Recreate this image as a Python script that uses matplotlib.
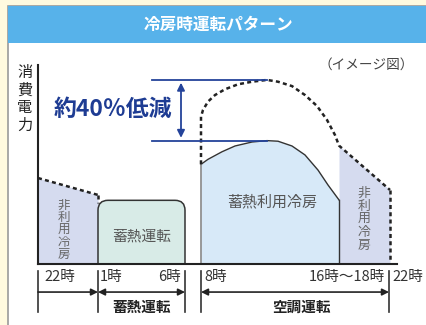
import matplotlib.pyplot as plt
from matplotlib.patches import Rectangle, FancyBboxPatch

plt.rcParams['font.family'] = ['Noto Sans CJK JP', 'DejaVu Sans']

# schematic time positions along the x axis
t_pos = [0, 60, 147, 163, 301, 351]   # 22時, 1時, 6時, 8時, 18時, 22時
t_labels = ['22時', '1時', '6時', '8時', '16時～18時', '22時']

# power (relative, 0-100)
night_x = [0, 60]
night_power = [43.2, 34.7]
night_drop = 30.5
storage_power = 32.0

main_x = [163, 170, 184, 197, 214, 229, 240, 254, 267, 280, 290, 301]
main_power = [50.1, 52.6, 56.4, 59.3, 61.3, 62.0, 61.7, 59.3, 54.8, 47.2, 39.7, 32.2]

evening_x = [301, 352]
evening_power = [59.5, 37.2]

dome_x = [163, 163, 165, 170, 177, 187, 200, 214, 229, 240, 254, 267, 279, 289, 297, 301]
dome_power = [50.1, 74.0, 77.4, 81.6, 84.9, 87.8, 90.3, 91.6, 92.5, 91.6, 89.4, 84.9,
              79.4, 72.4, 64.8, 59.5]

peak_before = 92.5
peak_after = 62.0

lavender = '#d5dbef'
teal = '#d8ebe7'
sky = '#d7e9f8'
navy = '#24439a'

fig = plt.figure(figsize=(4.26, 3.25), dpi=100)
fig.patch.set_facecolor('#fffadf')

bg = fig.add_axes([0, 0, 1, 1])
bg.set_xlim(0, 426)
bg.set_ylim(325, 0)
bg.axis('off')
bg.add_patch(Rectangle((8, 6), 420, 325, facecolor='white', edgecolor='#9a9a9a', lw=1.2))
bg.add_patch(Rectangle((8, 6), 420, 37, facecolor='#57b2ea', edgecolor='none'))
bg.text(218, 25, '冷房時運転パターン', color='white', fontsize=12, fontweight='bold',
        ha='center', va='center')
bg.text(414, 65, '（イメージ図）', color='#444444', fontsize=9.8, ha='right', va='center')
bg.text(25, 99, '消\n費\n電\n力', color='#222222', fontsize=11, ha='center', va='center',
        linespacing=1.05)

ax = fig.add_axes([38 / 426, 61 / 325, 359 / 426, 199 / 325])
ax.set_xlim(0, 359)
ax.set_ylim(0, 100)
ax.patch.set_alpha(0)
for s in ['top', 'right']:
    ax.spines[s].set_visible(False)
for s in ['left', 'bottom']:
    ax.spines[s].set_linewidth(1.5)
    ax.spines[s].set_color('#222222')
ax.set_xticks([])
ax.set_yticks([])

dash = (0, (1.6, 1.3))

# night non-use cooling
ax.fill_between(night_x, night_power, 0, color=lavender, lw=0)
ax.plot(night_x, night_power, color='#222222', lw=1.8, ls=dash)
ax.plot([night_x[1], night_x[1]], [night_power[1], night_drop], color='#222222', lw=1.8, ls=dash)

# storage operation box
ax.add_patch(FancyBboxPatch((t_pos[1], -20), t_pos[2] - t_pos[1], storage_power + 20,
                            boxstyle='round,pad=0,rounding_size=10', mutation_aspect=1 / 1.99,
                            facecolor=teal, edgecolor='#333333', lw=1.1))
ax.text((t_pos[1] + t_pos[2]) / 2, 13.6, '蓄熱運転', color='#555555', fontsize=10.6,
        ha='center', va='center')

# daytime storage-use cooling
ax.fill_between(main_x, main_power, 0, color=sky, lw=0)
ax.plot(main_x, main_power, color='#333333', lw=1)
ax.plot([main_x[0]] * 2, [0, main_power[0]], color='#888888', lw=1.2)
ax.text(234, 31, '蓄熱利用冷房', color='#555555', fontsize=10.8, ha='center', va='center')

# evening non-use cooling
ax.fill_between(evening_x, evening_power, 0, color=lavender, lw=0)
ax.plot([main_x[-1]] * 2, [0, main_power[-1]], color='#333333', lw=1)
ax.plot(dome_x + evening_x[1:], dome_power + evening_power[1:], color='#222222', lw=1.8, ls=dash)
ax.plot([evening_x[1]] * 2, [evening_power[1], 0], color='#222222', lw=1.8, ls=dash)

ax.text(25.5, 17.0, '非\n利\n用\n冷\n房', color='#666666', fontsize=9, ha='center', va='center',
        linespacing=0.92)
ax.text(326, 22.6, '非\n利\n用\n冷\n房', color='#666666', fontsize=9.3, ha='center', va='center',
        linespacing=1.0)

# reduction annotation
ax.plot([114, 229], [peak_before] * 2, color=navy, lw=1.3)
ax.plot([114, 229], [peak_after] * 2, color=navy, lw=1.3)
ax.annotate('', xy=(143, peak_before), xytext=(143, peak_after),
            arrowprops=dict(arrowstyle='<|-|>', color=navy, lw=1.3, mutation_scale=11))
ax.text(75, 77.4, '約40％低減', color='#1e3c93', fontsize=16.5, fontweight='bold',
        ha='center', va='center')

# time axis below
for x in [t_pos[0], t_pos[1], t_pos[2], t_pos[3], t_pos[5]]:
    ax.plot([x, x], [-3.5, -24.1], color='#333333', lw=1.2, clip_on=False)

lab_y = -6.6
ax.text(t_pos[0] + 6, lab_y, t_labels[0], fontsize=10.5, color='#333333', ha='left', va='center')
ax.text(t_pos[1] + 2, lab_y, t_labels[1], fontsize=10.5, color='#333333', ha='left', va='center')
ax.text(t_pos[2] - 4, lab_y, t_labels[2], fontsize=10.5, color='#333333', ha='right', va='center')
ax.text(t_pos[3] + 3, lab_y, t_labels[3], fontsize=10.5, color='#333333', ha='left', va='center')
ax.text(t_pos[5] - 4, lab_y, t_labels[4], fontsize=10.5, color='#333333', ha='right', va='center')
ax.text(t_pos[5] + 3, lab_y, t_labels[5], fontsize=10.5, color='#333333', ha='left', va='center')

arr_y = -14.1
ax.annotate('', xy=(t_pos[1], arr_y), xytext=(t_pos[0], arr_y), annotation_clip=False,
            arrowprops=dict(arrowstyle='-|>', color='#222222', lw=1.2, mutation_scale=10,
                            shrinkA=0, shrinkB=0))
ax.annotate('', xy=(t_pos[2], arr_y), xytext=(t_pos[1], arr_y), annotation_clip=False,
            arrowprops=dict(arrowstyle='<|-|>', color='#222222', lw=1.2, mutation_scale=10,
                            shrinkA=0, shrinkB=0))
ax.annotate('', xy=(t_pos[5], arr_y), xytext=(t_pos[3], arr_y), annotation_clip=False,
            arrowprops=dict(arrowstyle='<|-|>', color='#222222', lw=1.2, mutation_scale=10,
                            shrinkA=0, shrinkB=0))

ax.text((t_pos[1] + t_pos[2]) / 2, -21.6, '蓄熱運転', fontsize=10.5, fontweight='bold',
        color='#222222', ha='center', va='center', clip_on=False)
ax.text(263, -21.6, '空調運転', fontsize=10.5, fontweight='bold',
        color='#222222', ha='center', va='center', clip_on=False)

fig.savefig('out.png', dpi=100, facecolor=fig.get_facecolor())
